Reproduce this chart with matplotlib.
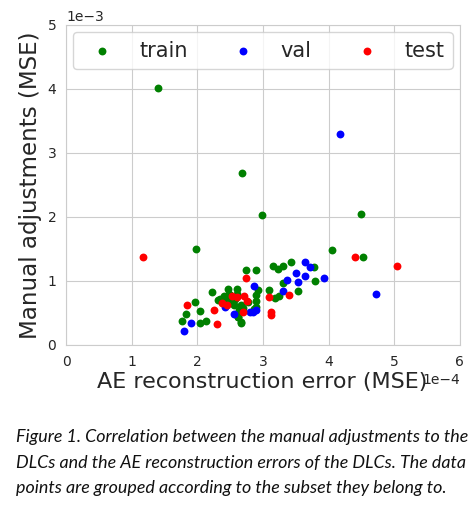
import matplotlib
matplotlib.use("Agg")
import matplotlib.pyplot as plt
import seaborn as sns

# Data (x in units of 1e-4, y in units of 1e-3)
train_x = [1.40, 2.68, 2.99, 4.50, 1.98, 4.06, 4.52, 2.74, 2.90, 3.15, 3.23, 3.30, 3.43, 3.78,
           3.79, 3.30, 3.53, 3.10, 3.18, 3.25, 2.22, 2.47, 2.61, 1.96, 2.04, 1.83, 1.76, 2.04,
           2.13, 2.66, 2.62, 2.31, 2.35, 2.48, 2.54, 2.67, 2.64, 2.90, 2.89, 2.89, 2.44, 2.58,
           2.40, 2.86, 2.60, 2.92, 2.77, 2.52, 2.56, 2.62, 2.67, 2.50, 2.70]
train_y = [4.02, 2.69, 2.03, 2.05, 1.50, 1.48, 1.38, 1.17, 1.17, 1.24, 1.19, 1.23, 1.30, 1.21,
           1.00, 0.96, 0.84, 0.86, 0.74, 0.77, 0.82, 0.88, 0.87, 0.67, 0.53, 0.48, 0.38, 0.34,
           0.38, 0.34, 0.43, 0.70, 0.72, 0.80, 0.67, 0.62, 0.54, 0.78, 0.68, 0.60, 0.72, 0.72,
           0.76, 0.56, 0.80, 0.86, 0.67, 0.70, 0.62, 0.44, 0.36, 0.78, 0.58]

val_x = [4.18, 4.72, 3.93, 3.64, 3.72, 3.50, 3.64, 3.54, 3.37, 3.30, 2.87, 2.80, 2.85, 2.90,
         2.56, 2.42, 1.91, 1.79]
val_y = [3.30, 0.79, 1.05, 1.30, 1.22, 1.12, 1.08, 0.99, 1.02, 0.84, 0.92, 0.51, 0.52, 0.54,
         0.49, 0.59, 0.34, 0.22]

test_x = [1.17, 4.40, 5.05, 2.74, 3.40, 3.09, 1.84, 2.26, 2.30, 3.13, 3.13, 2.53, 2.61, 2.71,
          2.76, 2.38, 2.45, 2.70]
test_y = [1.38, 1.38, 1.23, 1.04, 0.78, 0.75, 0.63, 0.55, 0.32, 0.52, 0.47, 0.76, 0.75, 0.76,
          0.69, 0.65, 0.63, 0.51]

x_scale = 1e-4
y_scale = 1e-3

caption_lines = [
    "Figure 1. Correlation between the manual adjustments to the",
    "DLCs and the AE reconstruction errors of the DLCs. The data",
    "points are grouped according to the subset they belong to.",
]

sns.set_style("whitegrid")
plt.rcParams['font.family'] = ['DejaVu Sans']

fig = plt.figure(figsize=(4.75, 5.08), dpi=100)
ax = fig.add_axes([0.139, 0.321, 0.829, 0.630])

for xs, ys, c, lab in [(train_x, train_y, 'g', 'train'),
                       (val_x, val_y, 'b', 'val'),
                       (test_x, test_y, 'r', 'test')]:
    ax.scatter([v * x_scale for v in xs], [v * y_scale for v in ys], s=32, c=c,
               linewidths=0, label=lab)

ax.set_xlim(0, 6e-4)
ax.set_ylim(0, 5e-3)
ax.set_xticks([i * 1e-4 for i in range(7)])
ax.set_yticks([i * 1e-3 for i in range(6)])
ax.ticklabel_format(style='sci', axis='both', scilimits=(0, 0))
ax.tick_params(labelsize=10, colors='.15')
ax.xaxis.get_offset_text().set_fontsize(10)
ax.yaxis.get_offset_text().set_fontsize(10)
ax.set_xlabel("AE reconstruction error (MSE)", fontsize=16, color='.15')
ax.set_ylabel("Manual adjustments (MSE)", fontsize=16.6, color='.15')
ax.xaxis.set_label_coords(0.497, -0.085)

ax.legend(ncol=3, mode='expand', loc='upper left', fontsize=15, frameon=True,
          borderaxespad=0.35)

# caption
fig.canvas.draw()
renderer = fig.canvas.get_renderer()
ys_cap = [437, 463, 488]
target_w = 451
fs = 11
t = fig.text(16 / 475, 1 - ys_cap[0] / 508, caption_lines[0], fontsize=fs,
             family='Lato', style='italic', va='center', ha='left', color='#111111')
w = t.get_window_extent(renderer).width
fs = fs * target_w / w
t.set_fontsize(fs)
for line, yy in zip(caption_lines[1:], ys_cap[1:]):
    fig.text(16 / 475, 1 - yy / 508, line, fontsize=fs, family='Lato', style='italic',
             va='center', ha='left', color='#111111')

fig.savefig("out.png", dpi=100)
